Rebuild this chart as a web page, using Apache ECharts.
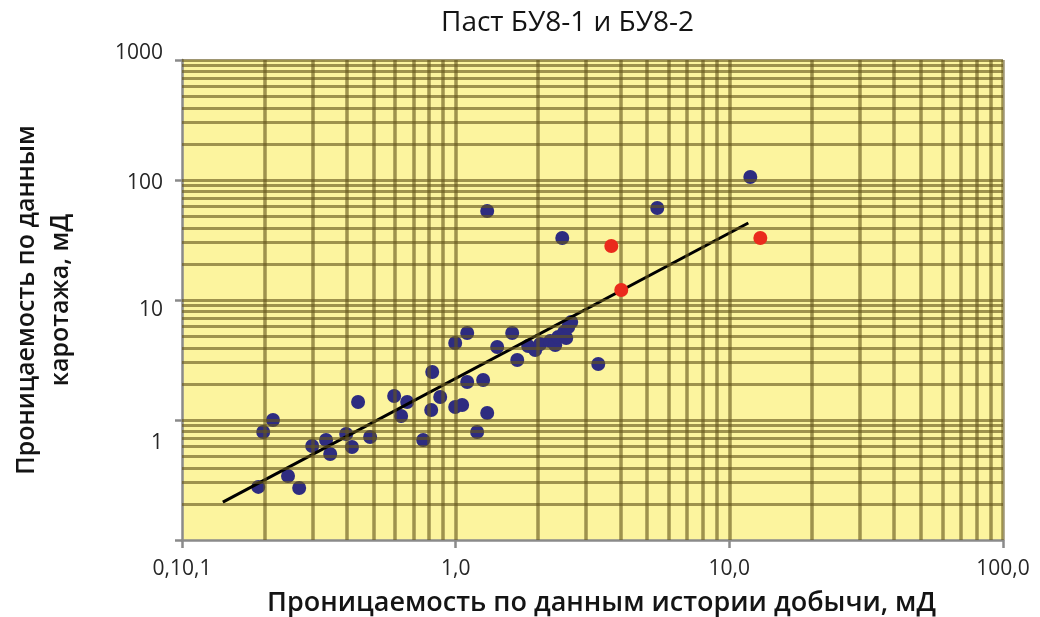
<!DOCTYPE html>
<html>
<head>
<meta charset="utf-8">
<script src="https://cdn.jsdelivr.net/npm/echarts@6/dist/echarts.min.js"></script>
<style>
html,body{margin:0;padding:0;background:#fff;}
#chart{width:1040px;height:617px;}
</style>
</head>
<body>
<div id="chart"></div>
<script>
// ---- data ----
const chartTitle = 'Паст БУ8-1 и БУ8-2';
const xAxisName = 'Проницаемость по данным истории добычи, мД';
const yAxisName = 'Проницаемость по данным\nкаротажа, мД';

const xTickLabels = ['0,10,1', '1,0', '10,0', '100,0'];      // for 0.1, 1, 10, 100
const yTickLabels = ['', '1', '10', '100', '1000'];            // for 0.1, 1, 10, 100, 1000

const bluePoints = [
  [0.190, 0.277], [0.198, 0.794], [0.215, 1.00], [0.244, 0.341], [0.268, 0.271],
  [0.299, 0.607], [0.336, 0.681], [0.348, 0.521], [0.398, 0.765], [0.418, 0.596],
  [0.440, 1.413], [0.487, 0.722], [0.596, 1.585], [0.632, 1.080], [0.665, 1.413],
  [0.761, 0.681], [0.814, 1.212], [0.821, 2.512], [0.878, 1.555], [0.996, 1.283],
  [1.056, 1.334], [0.996, 4.382], [1.102, 5.309], [1.102, 2.074], [1.198, 0.794],
  [1.260, 2.154], [1.304, 1.144], [1.418, 4.058], [1.609, 5.309], [1.679, 3.162],
  [1.841, 4.137], [1.953, 3.831], [2.037, 4.299], [2.216, 4.553], [2.311, 4.217],
  [2.371, 4.918], [2.493, 5.412], [2.535, 4.823], [2.578, 5.957], [2.644, 6.556],
  [3.319, 2.929], [1.304, 55.2], [2.452, 32.9], [5.454, 58.4], [11.93, 105.9]
];
const redPoints = [[3.704, 28.2], [4.028, 12.1], [12.98, 32.9]];
const trendLine = [[0.141, 0.207], [11.73, 43.8]];

const gridMultipliers = [1, 2, 3, 4, 5, 6, 7, 8, 9];
const xDecades = [0.1, 1, 10];
const yDecades = [0.1, 1, 10, 100];

// ---- grid line values built from the arrays ----
const xGridValues = [];
xDecades.forEach(d => gridMultipliers.forEach(m => { const v = +(d * m).toPrecision(6); if (v > 0.1) xGridValues.push(v); }));
xGridValues.push(100);
const yGridValues = [];
yDecades.forEach(d => gridMultipliers.forEach(m => { const v = +(d * m).toPrecision(6); if (v > 0.1) yGridValues.push(v); }));
yGridValues.push(1000);

const gridLineColor = 'rgba(100,86,28,0.62)';

const chart = echarts.init(document.getElementById('chart'));
const labelFont = '"Open Sans", "Liberation Sans", sans-serif';

chart.setOption({
  animation: false,
  backgroundColor: '#ffffff',
  title: {
    text: chartTitle,
    left: 436,
    top: 4,
    textStyle: { fontFamily: labelFont, fontSize: 28, fontWeight: 500, color: '#141414' }
  },
  grid: {
    left: 182, right: 37, top: 60, bottom: 77,
    outerBoundsMode: 'none', containLabel: false,
    show: true, backgroundColor: '#fcf49e', borderWidth: 0
  },
  xAxis: {
    type: 'log', logBase: 10, min: 0.1, max: 100,
    name: xAxisName, nameLocation: 'middle', nameGap: 50,
    nameTextStyle: { fontFamily: labelFont, fontSize: 27, fontWeight: 600, color: '#141414', padding: [0, 0, 0, 18] },
    axisLine: { show: true, lineStyle: { color: '#8a8a8a', width: 2.5 } },
    axisTick: { show: true, length: 8, lineStyle: { color: '#8a8a8a', width: 2.5 } },
    splitLine: { show: false },
    axisLabel: {
      margin: 19, fontFamily: labelFont, fontSize: 21, color: '#262626',
      formatter: v => xTickLabels[Math.round(Math.log10(v)) + 1]
    }
  },
  yAxis: {
    type: 'log', logBase: 10, min: 0.1, max: 1000,
    name: yAxisName, nameLocation: 'middle', nameGap: 104, nameRotate: 90,
    nameTextStyle: { fontFamily: labelFont, fontSize: 25, fontWeight: 600, color: '#141414', lineHeight: 34, align: 'center' },
    axisLine: { show: true, lineStyle: { color: '#8a8a8a', width: 2.5 } },
    axisTick: { show: true, length: 7, lineStyle: { color: '#8a8a8a', width: 2.5 } },
    splitLine: { show: false },
    axisLabel: {
      margin: 19, fontFamily: labelFont, fontSize: 21, color: '#262626',
      formatter: v => {
        const i = Math.round(Math.log10(v)) + 1;
        const t = yTickLabels[i];
        return t ? '{r' + i + '|' + t + '}' : '';
      },
      rich: {
        r1: { fontFamily: labelFont, fontSize: 21, color: '#262626', padding: [46, 0, 0, 0] },
        r2: { fontFamily: labelFont, fontSize: 21, color: '#262626', padding: [20, 0, 0, 0] },
        r3: { fontFamily: labelFont, fontSize: 21, color: '#262626', padding: [6, 0, 0, 0] },
        r4: { fontFamily: labelFont, fontSize: 21, color: '#262626', padding: [0, 0, 14, 0] }
      }
    }
  },
  series: [
    {
      name: 'vgrid', type: 'line', data: [], silent: true, z: 1,
      markLine: {
        silent: true, symbol: 'none', label: { show: false },
        lineStyle: { color: gridLineColor, width: 3.5, type: 'solid' },
        data: xGridValues.map(v => ({ xAxis: v }))
      }
    },
    {
      name: 'hgrid', type: 'line', data: [], silent: true, z: 1,
      markLine: {
        silent: true, symbol: 'none', label: { show: false },
        lineStyle: { color: gridLineColor, width: 3, type: 'solid' },
        data: yGridValues.map(v => ({ yAxis: v }))
      }
    },
    {
      name: 'blue', type: 'scatter', data: bluePoints, z: 3,
      symbolSize: 14, itemStyle: { color: '#2e2c80', opacity: 1 }
    },
    {
      name: 'trend', type: 'line', data: trendLine, z: 4,
      symbol: 'none', lineStyle: { color: '#000', width: 3 }
    },
    {
      name: 'red', type: 'scatter', data: redPoints, z: 5,
      symbolSize: 14, itemStyle: { color: '#ea2a1c', opacity: 1 }
    }
  ]
});
</script>
</body>
</html>
